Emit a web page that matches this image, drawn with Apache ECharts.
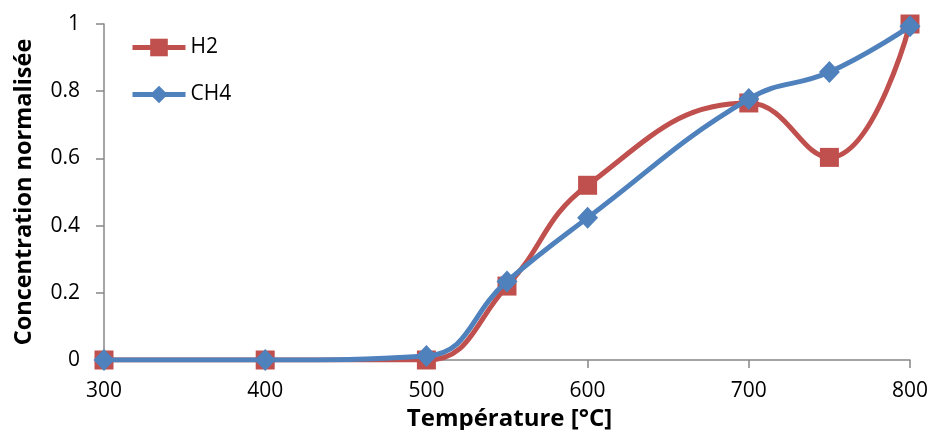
<!DOCTYPE html>
<html>
<head>
<meta charset="utf-8">
<script src="https://cdn.jsdelivr.net/npm/echarts@6/dist/echarts.min.js"></script>
<style>
html,body{margin:0;padding:0;background:#fff;}
#chart{width:931px;height:430px;}
</style>
</head>
<body>
<div id="chart"></div>
<script>
var temperatures = [300, 400, 500, 550, 600, 700, 750, 800];
var h2Values = [0, 0, 0, 0.22, 0.52, 0.765, 0.603, 1.0];
var ch4Values = [0, 0, 0.012, 0.234, 0.423, 0.777, 0.857, 0.993];
var xTicks = [300, 400, 500, 600, 700, 800];
var yTicks = [0, 0.2, 0.4, 0.6, 0.8, 1];

function pairs(xs, ys) { return xs.map(function (x, i) { return [x, ys[i]]; }); }

var FONT = 'Open Sans';
var chart = echarts.init(document.getElementById('chart'));
chart.setOption({
  animation: false,
  backgroundColor: '#ffffff',
  textStyle: { fontFamily: FONT },
  grid: { left: 104, right: 21, top: 24, bottom: 70, containLabel: false, outerBoundsMode: 'none' },
  legend: {
    orient: 'vertical',
    left: 125,
    top: 32,
    itemWidth: 53,
    itemHeight: 22,
    itemGap: 26,
    lineStyle: { width: 5 },
    textStyle: { fontFamily: FONT, fontSize: 21, color: '#000' },
    data: ['H2', 'CH4']
  },
  xAxis: {
    type: 'value',
    min: 300,
    max: 800,
    interval: 100,
    name: 'Température [°C]',
    nameLocation: 'middle',
    nameGap: 43,
    nameTextStyle: { fontFamily: FONT, fontSize: 24, fontWeight: 'bold', color: '#000', padding: [0, 0, 0, 5] },
    axisLine: { lineStyle: { color: '#878787', width: 1.5 } },
    axisTick: { show: true, inside: false, length: 8, lineStyle: { color: '#878787', width: 1.5 } },
    axisLabel: { fontFamily: FONT, fontSize: 21, color: '#000', margin: 21,
      formatter: function (v) { return xTicks.indexOf(v) >= 0 ? String(v) : ''; } },
    splitLine: { show: false }
  },
  yAxis: {
    type: 'value',
    min: 0,
    max: 1,
    interval: 0.2,
    name: 'Concentration normalisée',
    nameLocation: 'middle',
    nameGap: 68,
    nameTextStyle: { fontFamily: FONT, fontSize: 23.5, fontWeight: 'bold', color: '#000' },
    axisLine: { show: true, lineStyle: { color: '#878787', width: 1.5 } },
    axisTick: { show: true, inside: false, length: 8, lineStyle: { color: '#878787', width: 1.5 } },
    axisLabel: { fontFamily: FONT, fontSize: 21, color: '#000', margin: 24,
      formatter: function (v) {
        var r = Math.round(v * 10) / 10;
        return yTicks.indexOf(r) >= 0 ? String(r) : '';
      } },
    splitLine: { show: false }
  },
  series: [
    {
      name: 'H2',
      type: 'line',
      data: pairs(temperatures, h2Values),
      smooth: 0.45,
      symbol: 'rect',
      symbolSize: 19,
      color: '#C0504D',
      lineStyle: { width: 5, color: '#C0504D' },
      itemStyle: { color: '#C0504D' },
      z: 2
    },
    {
      name: 'CH4',
      type: 'line',
      data: pairs(temperatures, ch4Values),
      smooth: 0.45,
      symbol: 'diamond',
      symbolSize: [21, 22],
      color: '#4F81BD',
      lineStyle: { width: 5, color: '#4F81BD' },
      itemStyle: { color: '#4F81BD' },
      z: 3
    }
  ]
});
</script>
</body>
</html>
